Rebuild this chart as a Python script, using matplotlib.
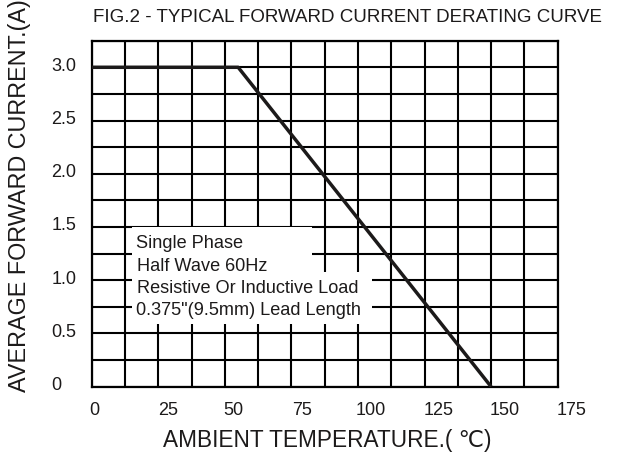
import matplotlib
matplotlib.use("Agg")
import matplotlib.pyplot as plt
import matplotlib.transforms as mtransforms
from matplotlib.patches import Rectangle

plt.rcParams['font.family'] = ['Liberation Sans', 'DejaVu Sans']

# derating curve
temp = [0, 55, 150]
current = [3.0, 3.0, 0.0]

x_ticks = [0, 25, 50, 75, 100, 125, 150, 175]
x_labels = ['0', '25', '50', '75', '100', '125', '150', '175']
y_ticks = [0, 0.5, 1.0, 1.5, 2.0, 2.5, 3.0]
y_labels = ['0', '0.5', '1.0', '1.5', '2.0', '2.5', '3.0']

notes = ['Single Phase', 'Half Wave 60Hz', 'Resistive Or Inductive Load',
         '0.375"(9.5mm) Lead Length']

ink = '#1c1a1a'

fig = plt.figure(figsize=(6.18, 4.6), dpi=100)
ax = fig.add_axes([0.1484, 0.1572, 0.754, 0.7522])

ax.set_xlim(0, 175)
ax.set_ylim(0, 3.25)
ax.set_xticks(x_ticks)
ax.set_xticklabels(x_labels)
ax.set_yticks(y_ticks)
ax.set_yticklabels(y_labels)
ax.set_xticks([i * 12.5 for i in range(15)], minor=True)
ax.set_yticks([i * 0.25 for i in range(14)], minor=True)
ax.grid(True, which='both', color='black', lw=1.5)
ax.set_axisbelow(True)
ax.tick_params(which='both', length=0)
ax.tick_params(axis='x', pad=10, labelsize=13, labelcolor=ink)
ax.tick_params(axis='y', pad=29, labelsize=13, labelcolor=ink)
for lab in ax.get_yticklabels():
    lab.set_horizontalalignment('left')
    lab.set_transform(lab.get_transform() +
                      mtransforms.ScaledTranslation(0, 3 / 72, fig.dpi_scale_trans))
x_shift = [2, 7, 6, 8, 9, 10, 10, 10]
for lab, s in zip(ax.get_xticklabels(), x_shift):
    lab.set_transform(lab.get_transform() +
                      mtransforms.ScaledTranslation(s / 72, 0, fig.dpi_scale_trans))
for sp in ax.spines.values():
    sp.set_linewidth(1.6)
    sp.set_color('black')

# white area behind the notes
ax.add_patch(Rectangle((15.1, 1.078), 67.6, 0.42, facecolor='white',
                       edgecolor='none', zorder=1))
ax.add_patch(Rectangle((15.1, 0.589), 90.1, 0.49, facecolor='white',
                       edgecolor='none', zorder=1))

ax.plot(temp, current, color=ink, lw=2.5, zorder=3, solid_capstyle='butt')

note_x = [16.6, 17.1, 17.1, 16.6]
note_y = [1.35, 1.137, 0.928, 0.724]
for t, nx, ny in zip(notes, note_x, note_y):
    ax.text(nx, ny, t, fontsize=13.1, color=ink, ha='left', va='center', zorder=4)

fig.text(347 / 618, 1 - 18 / 460, 'FIG.2 - TYPICAL FORWARD CURRENT DERATING CURVE',
         ha='center', va='center', fontsize=13.5, color=ink)
fig.text(20 / 618, 1 - 196 / 460, 'AVERAGE FORWARD CURRENT.(A)', rotation=90,
         ha='center', va='center', fontsize=16.8, color=ink)
fig.text(327 / 618, 1 - 441 / 460, 'AMBIENT TEMPERATURE.( ℃)',
         ha='center', va='center', fontsize=16.3, color=ink)

fig.savefig('out.png', dpi=100)
